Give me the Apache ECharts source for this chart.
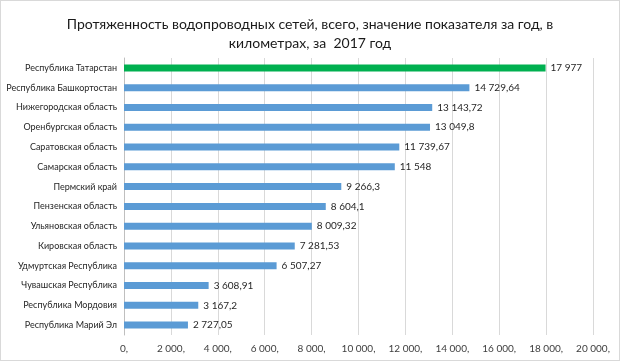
<!DOCTYPE html>
<html><head><meta charset="utf-8">
<script src="https://cdn.jsdelivr.net/npm/echarts@6/dist/echarts.min.js"></script>
<style>html,body{margin:0;padding:0;background:#fff}#c{width:620px;height:361px;box-sizing:border-box;border:1px solid #d9d9d9}</style>
</head><body><div id="c"></div>
<script>
const categories = ["Республика Татарстан","Республика Башкортостан","Нижегородская область","Оренбургская область","Саратовская область","Самарская область","Пермский край","Пензенская область","Ульяновская область","Кировская область","Удмуртская Республика","Чувашская Республика","Республика Мордовия","Республика Марий Эл"];
const values = [17977,14729.64,13143.72,13049.8,11739.67,11548,9266.3,8604.1,8009.32,7281.53,6507.27,3608.91,3167.2,2727.05];
const highlight = "Республика Татарстан";

function fmt(v){
  const s = String(v).split('.');
  const i = s[0].replace(/\B(?=(\d{3})+(?!\d))/g,' ');
  return s.length>1 ? i+','+s[1] : i;
}
const font = 'Lato, "Open Sans", sans-serif';
const chart = echarts.init(document.getElementById('c'));
chart.setOption({
  animation:false,
  title:{text:'Протяженность водопроводных сетей, всего, значение показателя за год, в\nкилометрах, за  2017 год',left:'center',top:9,
    textStyle:{fontFamily:font,fontSize:14,fontWeight:'normal',color:'#1a1a1a',lineHeight:19}},
  grid:{left:123,right:26,top:57,bottom:25,containLabel:false,outerBoundsMode:'none'},
  xAxis:{type:'value',min:0,max:20000,interval:2000,
    axisLine:{show:false},axisTick:{show:false},
    splitLine:{lineStyle:{color:'#d9d9d9'}},
    axisLabel:{fontFamily:font,fontSize:10,color:'#404040',margin:9,formatter:v=>fmt(v)+','}},
  yAxis:{type:'category',data:categories,inverse:true,
    axisLine:{lineStyle:{color:'#bfbfbf'}},axisTick:{show:false},
    axisLabel:{fontFamily:font,fontSize:9,color:'#262626',margin:7}},
  series:[{type:'bar',barWidth:7,
    data:values.map((v,i)=>({value:v,itemStyle:{color:categories[i]===highlight?'#00b050':'#5b9bd5'}})),
    label:{show:true,position:'right',distance:5,fontFamily:font,fontSize:10,color:'#262626',formatter:p=>fmt(p.value)}}]
});
</script></body></html>
